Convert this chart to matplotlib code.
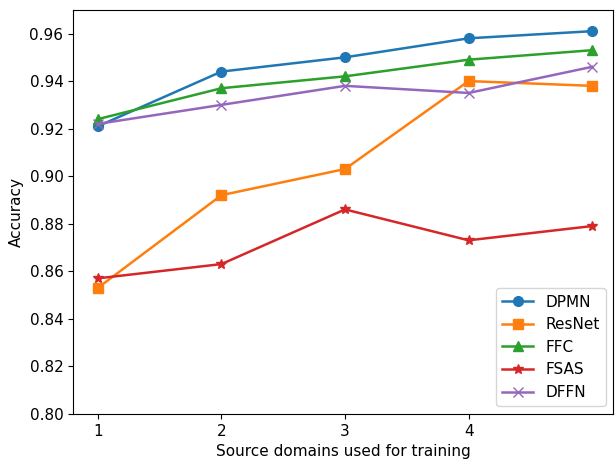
import numpy as np
import matplotlib.pyplot as plt

domains = [1, 2, 3, 4, 5]
xtick_labels = ["1", "2", "3", "4"]

dpmn = [0.921, 0.944, 0.950, 0.958, 0.961]
resnet = [0.853, 0.892, 0.903, 0.940, 0.938]
ffc = [0.924, 0.937, 0.942, 0.949, 0.953]
fsas = [0.857, 0.863, 0.886, 0.873, 0.879]
dffn = [0.922, 0.930, 0.938, 0.935, 0.946]

Fontsize = 11

fig = plt.figure(figsize=(6.15, 4.66), dpi=100)
ax = fig.add_axes([0.119, 0.112, 0.878, 0.867])

ax.plot(domains, dpmn, marker='o', markersize=7, linewidth=1.8, label='DPMN')
ax.plot(domains, resnet, marker='s', markersize=7, linewidth=1.8, label='ResNet')
ax.plot(domains, ffc, marker='^', markersize=7, linewidth=1.8, label='FFC')
ax.plot(domains, fsas, marker='*', markersize=7, linewidth=1.8, label='FSAS')
ax.plot(domains, dffn, marker='x', markersize=7, linewidth=1.8, label='DFFN')

ax.set_xlim(0.8, 5.17)
ax.set_ylim(0.80, 0.970)
ax.set_xticks([1, 2, 3, 4])
ax.set_xticklabels(xtick_labels, fontsize=Fontsize)
ax.set_yticks(np.arange(0.80, 0.961, 0.02))
ax.tick_params(axis='y', labelsize=Fontsize)
ax.set_xlabel('Source domains used for training', fontsize=Fontsize)
ax.set_ylabel('Accuracy', fontsize=Fontsize)
ax.legend(loc='lower right', fontsize=Fontsize)

fig.savefig('out.png', dpi=100)
